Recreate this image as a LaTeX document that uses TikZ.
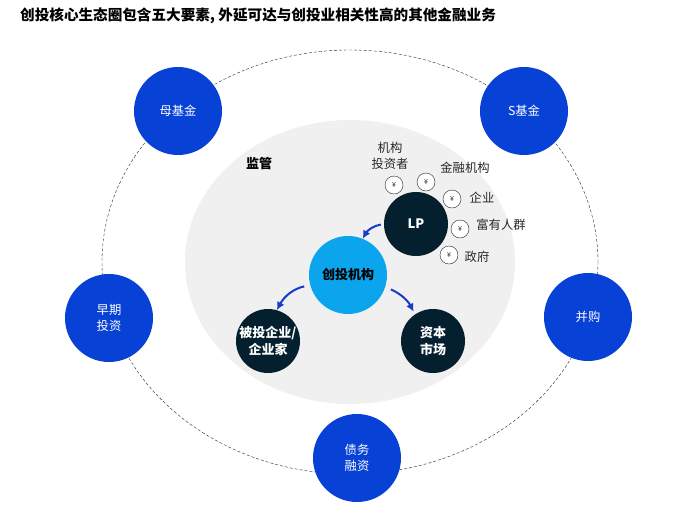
\documentclass[tikz,border=0pt]{standalone}
\usepackage{xcolor}
\usepackage{fontspec}
\setmainfont{Noto Sans CJK SC}
\usetikzlibrary{arrows.meta,shapes.geometric}
\definecolor{ecoBlue}{RGB}{8,65,214}
\definecolor{ecoSky}{RGB}{10,165,236}
\definecolor{ecoDark}{RGB}{4,32,47}
\definecolor{ecoGray}{RGB}{240,240,241}
\definecolor{ecoArrow}{RGB}{22,60,200}
\definecolor{ecoText}{RGB}{40,40,40}
\newcommand{\labelsize}{\fontsize{12.3}{16}\selectfont}
\newcommand{\corelabel}{\fontsize{13}{16.5}\selectfont\bfseries}
\begin{document}
\begin{tikzpicture}[x=1pt,y=-1pt,>={Latex[length=8pt,width=8pt]},
  outerbox/.style={circle,fill=ecoBlue,text=white,minimum size=88pt,inner sep=0pt,align=center,font=\labelsize},
  darkbox/.style={circle,fill=ecoDark,text=white,minimum size=64pt,inner sep=0pt,align=center,font=\corelabel},
  coinbox/.style={circle,draw=ecoText,line width=0.4pt,fill=white,text=ecoText,minimum size=18pt,inner sep=0pt,font=\fontsize{7}{8}\selectfont},
  tagbox/.style={text=ecoText,inner sep=0pt,align=center,font=\labelsize},
  flow/.style={->,ecoArrow,line width=2pt}]
\useasboundingbox (0,0) rectangle (681,531);
\node[anchor=west,inner sep=0pt,font=\fontsize{14.6}{18}\selectfont\bfseries] (title) at (20,16) {创投核心生态圈包含五大要素, 外延可达与创投业相关性高的其他金融业务};
% outer ring and grey field
\node[ellipse,draw=ecoText,densely dashed,line width=0.4pt,minimum width=496pt,minimum height=424pt,inner sep=0pt] (ring) at (350,262) {};
\node[ellipse,fill=ecoGray,minimum width=330pt,minimum height=284pt,inner sep=0pt] (field) at (350,262) {};
% five outer elements
\node[outerbox] (mother) at (178,111) {母基金};
\node[outerbox] (sfund) at (524,111) {S基金};
\node[outerbox] (early) at (109,318) {早期\\投资};
\node[outerbox] (merge) at (588,317) {并购};
\node[outerbox] (debt) at (357,458) {债务\\融资};
% core
\node[inner sep=0pt,font=\corelabel] (reg) at (259,164) {监管};
\node[circle,fill=ecoSky,minimum size=78pt,inner sep=0pt,font=\corelabel] (vc) at (348,275) {创投机构};
\node[darkbox] (lp) at (416,224) {LP};
\node[darkbox] (startup) at (268,341) {被投企业/\\企业家};
\node[darkbox] (market) at (433,341) {资本\\市场};
% investors
\node[coinbox] (c1) at (394,185) {¥};
\node[coinbox] (c2) at (426,182) {¥};
\node[coinbox] (c3) at (452,199) {¥};
\node[coinbox] (c4) at (460,229) {¥};
\node[coinbox] (c5) at (449,255) {¥};
\node[tagbox] (t1) at (390,156) {机构\\投资者};
\node[tagbox] (t2) at (465,168) {金融机构};
\node[tagbox] (t3) at (482,198) {企业};
\node[tagbox] (t4) at (501,225) {富有人群};
\node[tagbox] (t5) at (477,257) {政府};
\draw[flow,shorten <=3pt] (lp.180) to[bend right=25] (vc.68);
\draw[flow,shorten <=6pt] (vc.195) to[bend right=25] (startup.74);
\draw[flow,shorten <=6pt,shorten >=3pt] (vc.-18) to[bend left=20] (market.124);
\end{tikzpicture}
\end{document}
